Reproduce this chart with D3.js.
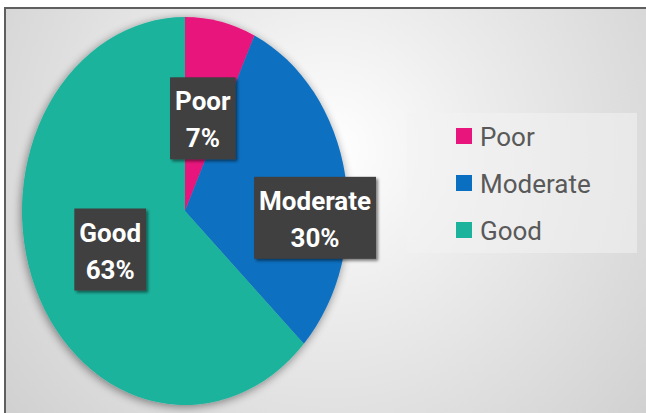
<!DOCTYPE html>
<html>
<head>
<meta charset="utf-8">
<script src="https://cdn.jsdelivr.net/npm/d3@7"></script>
<style>
  html, body { margin: 0; padding: 0; background: #fff; }
  svg { display: block; }
</style>
</head>
<body>
<svg id="chart" width="646" height="413"></svg>
<script>
// ---- data ----
const categories = ["Poor", "Moderate", "Good"];
const values = [7, 30, 63];
const percentLabels = ["7%", "30%", "63%"];
const colors = ["#e8157c", "#0a6fc1", "#1bb39c"];

// ---- layout ----
const W = 646, H = 413;
const cx = 185, cy = 211, rx = 163, ry = 194;

const svg = d3.select("#chart");
const defs = svg.append("defs");

const grad = defs.append("radialGradient")
  .attr("id", "bg").attr("gradientUnits", "userSpaceOnUse")
  .attr("cx", 330).attr("cy", 150).attr("r", 430);
grad.append("stop").attr("offset", "0%").attr("stop-color", "#ffffff");
grad.append("stop").attr("offset", "35%").attr("stop-color", "#ededed");
grad.append("stop").attr("offset", "100%").attr("stop-color", "#cfcfcf");

const sh = defs.append("filter").attr("id", "pieShadow")
  .attr("x", "-20%").attr("y", "-20%").attr("width", "140%").attr("height", "140%");
sh.append("feGaussianBlur").attr("in", "SourceAlpha").attr("stdDeviation", 5).attr("result", "b");
sh.append("feOffset").attr("in", "b").attr("dx", -1).attr("dy", 2).attr("result", "o");
sh.append("feComponentTransfer").attr("in", "o").attr("result", "s")
  .append("feFuncA").attr("type", "linear").attr("slope", 0.45);
const m1 = sh.append("feMerge");
m1.append("feMergeNode").attr("in", "s");
m1.append("feMergeNode").attr("in", "SourceGraphic");

const bs = defs.append("filter").attr("id", "boxShadow")
  .attr("x", "-20%").attr("y", "-20%").attr("width", "150%").attr("height", "150%");
bs.append("feGaussianBlur").attr("in", "SourceAlpha").attr("stdDeviation", 1.5).attr("result", "b");
bs.append("feOffset").attr("in", "b").attr("dx", 2).attr("dy", 2).attr("result", "o");
bs.append("feComponentTransfer").attr("in", "o").attr("result", "s")
  .append("feFuncA").attr("type", "linear").attr("slope", 0.5);
const m2 = bs.append("feMerge");
m2.append("feMergeNode").attr("in", "s");
m2.append("feMergeNode").attr("in", "SourceGraphic");

// background + frame
svg.append("rect").attr("x", 0).attr("y", 0).attr("width", W).attr("height", H).attr("fill", "#ffffff");
svg.append("rect").attr("x", 6).attr("y", 8).attr("width", W - 6).attr("height", H - 8).attr("fill", "url(#bg)");
svg.append("line").attr("x1", 5).attr("x2", W).attr("y1", 8).attr("y2", 8).attr("stroke", "#5f5f5f").attr("stroke-width", 2);
svg.append("line").attr("x1", 5).attr("x2", 5).attr("y1", 7).attr("y2", H).attr("stroke", "#5f5f5f").attr("stroke-width", 2);

// pie
const pie = d3.pie().sort(null).value(d => d)(values);
const arc = d3.arc().innerRadius(0).outerRadius(ry);
const sx = rx / ry;

const pieG = svg.append("g").attr("filter", "url(#pieShadow)")
  .append("g").attr("transform", `translate(${cx},${cy}) scale(${sx},1)`);
pieG.selectAll("path").data(pie).join("path")
  .attr("d", arc)
  .attr("fill", (d, i) => colors[i]);

// data labels
const labelNudge = [[0, 2], [50, 25], [0, 0]];
const labelFont = "Roboto, 'Open Sans', sans-serif";
pie.forEach((d, i) => {
  const c = arc.centroid(d);
  const x = cx + c[0] * sx + labelNudge[i][0];
  const y = cy + c[1] + labelNudge[i][1];
  const g = svg.append("g").attr("transform", `translate(${x},${y})`);
  const box = g.append("rect").attr("fill", "#3f3f3f").attr("filter", "url(#boxShadow)");
  const t1 = g.append("text").attr("text-anchor", "middle").attr("y", -8)
    .attr("font-family", labelFont).attr("font-weight", 700).attr("font-size", 26)
    .attr("fill", "#ffffff").text(categories[i]);
  const t2 = g.append("text").attr("text-anchor", "middle").attr("y", 29)
    .attr("font-family", labelFont).attr("font-weight", 700).attr("font-size", 26)
    .attr("fill", "#ffffff").text(percentLabels[i]);
  const w = Math.max(t1.node().getComputedTextLength(), t2.node().getComputedTextLength()) + 10;
  box.attr("x", -w / 2).attr("y", -41).attr("width", w).attr("height", 82);
});

// legend
const legX = 407, legY = 113;
svg.append("rect").attr("x", legX).attr("y", legY).attr("width", 230).attr("height", 140)
  .attr("fill", "#f2f2f2").attr("fill-opacity", 0.55);
const leg = svg.append("g");
categories.forEach((c, i) => {
  const y = 128 + i * 47;
  leg.append("rect").attr("x", 456).attr("y", y).attr("width", 16).attr("height", 16).attr("fill", colors[i]);
  leg.append("text").attr("x", 480).attr("y", y + 18)
    .attr("font-family", "Roboto, 'Open Sans', sans-serif").attr("font-size", 26)
    .attr("fill", "#595959").text(c);
});
</script>
</body>
</html>
